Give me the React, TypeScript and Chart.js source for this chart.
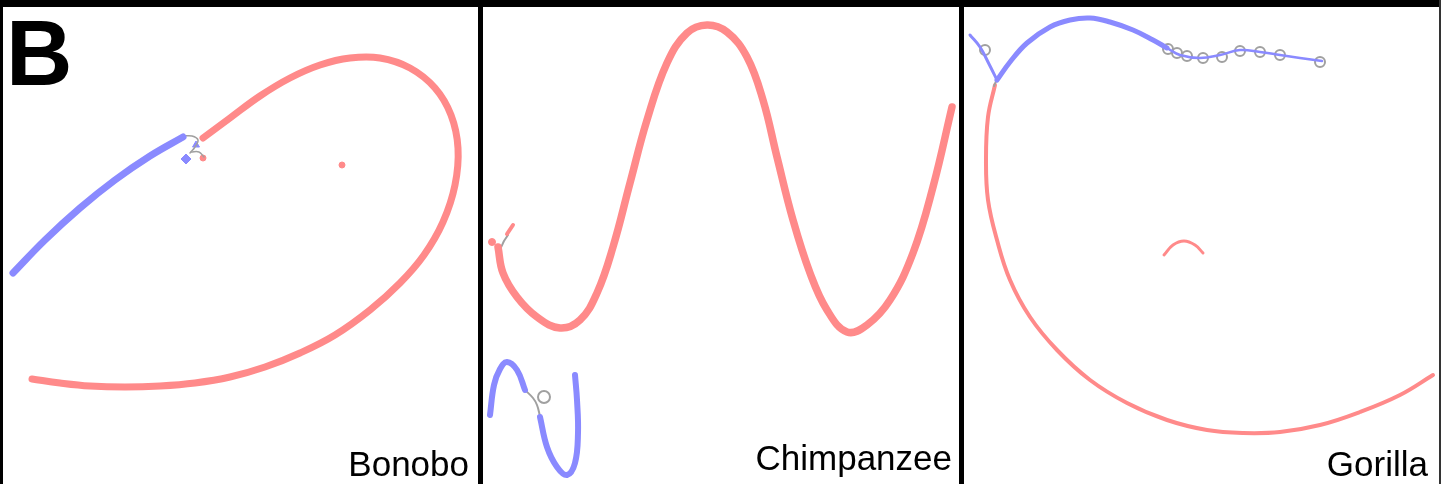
import React, { useEffect, useRef } from "react";
import { Chart, registerables } from "chart.js";

Chart.register(...registerables);

type P = [number, number];

// Figure-space coordinates (x: 0..1451, y: 0..484, y downward)
const panelLabels = ["Bonobo", "Chimpanzee", "Gorilla"];
const panelLetter = "B";

// ---- Bonobo ----
const bonoboBlue: P[] = [[13, 273], [45, 240], [80, 208], [115, 180], [150, 156], [183, 137]];
const bonoboRed: P[] = [
  [203, 138], [230, 118], [260, 96], [290, 78], [320, 65], [350, 58], [380, 58], [410, 68],
  [435, 88], [451, 115], [458, 148], [455, 185], [443, 222], [424, 255], [400, 283],
  [370, 310], [335, 335], [300, 353], [265, 367], [230, 377], [195, 383], [160, 386],
  [125, 387], [90, 386], [60, 383], [32, 379],
];
const bonoboGrayA: P[] = [[183, 136], [192, 136], [198, 140], [195, 147], [190, 153]];
const bonoboGrayB: P[] = [[191, 152], [199, 152], [204, 157]];
const bonoboBlueTri: P[] = [[196, 145]];
const bonoboBlueBlob: P[] = [[186, 159]];
const bonoboRedBits: P[] = [[203, 158], [342, 165]];

// ---- Chimpanzee ----
const chimpRed: P[] = [
  [498, 247], [503, 273], [517, 297], [537, 317], [560, 328], [580, 320], [597, 293],
  [613, 247], [630, 183], [647, 120], [667, 63], [687, 33], [707, 25], [727, 32],
  [747, 57], [763, 100], [777, 157], [793, 220], [810, 273], [827, 310], [847, 332],
  [867, 325], [890, 300], [913, 253], [933, 187], [952, 107],
];
const chimpRedStub: P[] = [[507, 234], [513, 225]];
const chimpRedDot: P[] = [[492, 242]];
const chimpGrayTop: P[] = [[497, 247], [500, 249], [504, 241], [508, 235]];
const chimpBlueA: P[] = [[490, 415], [494, 385], [500, 369], [507, 362], [517, 370], [525, 390]];
const chimpBlueB: P[] = [[540, 417], [547, 447], [557, 467], [567, 475], [575, 463], [578, 433], [577, 400], [575, 375]];
const chimpGrayLink: P[] = [[525, 390], [533, 398], [537, 405], [540, 416]];
const chimpRing: P[] = [[544, 397]];

// ---- Gorilla ----
const gorillaBlueStub: P[] = [[970, 35], [980, 47], [989, 64], [997, 80]];
const gorillaBlue: P[] = [[997, 80], [1010, 62], [1027, 43], [1050, 27], [1070, 20], [1090, 18], [1110, 22], [1133, 30], [1153, 40], [1167, 48]];
const gorillaBlueThin: P[] = [[1167, 48], [1180, 55], [1200, 58], [1220, 55], [1240, 50], [1260, 52], [1280, 55], [1300, 58], [1322, 61]];
const gorillaRings: P[] = [[985, 50], [1168, 49], [1177, 53], [1187, 56], [1203, 58], [1222, 57], [1240, 51], [1260, 52], [1280, 55], [1320, 62]];
const gorillaGrayLink: P[] = [[997, 79], [994, 86]];
const gorillaRed: P[] = [
  [995, 85], [988, 117], [986, 160], [988, 200], [997, 240], [1010, 280], [1030, 317],
  [1057, 350], [1090, 380], [1127, 403], [1167, 420], [1207, 430], [1243, 433],
  [1280, 432], [1320, 425], [1360, 412], [1400, 395], [1433, 375],
];
const gorillaArc: P[] = [[1164, 255], [1173, 245], [1184, 241], [1195, 245], [1203, 253]];

const RED = "rgb(255,138,138)";
const BLUE = "rgb(138,138,255)";
const GRAY = "rgb(160,160,160)";

const W = 1451;
const H = 484;

function pts(d: P[]) {
  return d.map(([x, y]) => ({ x, y }));
}
function line(d: P[], color: string, width: number, tension = 0.4) {
  return {
    data: pts(d),
    showLine: true,
    borderColor: color,
    backgroundColor: color,
    borderWidth: width,
    pointRadius: 0,
    tension,
    fill: false,
    borderCapStyle: "round",
    borderJoinStyle: "round",
  };
}
function dots(d: P[], color: string, r: number, style: string, filled: boolean, bw = 1) {
  return {
    data: pts(d),
    showLine: false,
    pointRadius: r,
    pointStyle: style,
    pointBackgroundColor: filled ? color : "rgba(0,0,0,0)",
    pointBorderColor: color,
    pointBorderWidth: bw,
  };
}

function Figure() {
  const ref = useRef<HTMLCanvasElement | null>(null);
  useEffect(() => {
    if (!ref.current) return;
    const chart = new Chart(ref.current, {
      type: "scatter",
      data: {
        datasets: [
          line(bonoboBlue, BLUE, 7),
          line(bonoboRed, RED, 7),
          line(bonoboGrayA, GRAY, 1.5),
          line(bonoboGrayB, GRAY, 1.5),
          dots(bonoboBlueTri, BLUE, 4, "triangle", true),
          dots(bonoboBlueBlob, BLUE, 5, "rectRot", true),
          dots(bonoboRedBits, RED, 3, "circle", true),
          line(chimpRed, RED, 7.5),
          line(chimpRedStub, RED, 4, 0),
          dots(chimpRedDot, RED, 3.5, "circle", true),
          line(chimpGrayTop, GRAY, 2, 0.2),
          line(chimpBlueA, BLUE, 6),
          line(chimpBlueB, BLUE, 6),
          line(chimpGrayLink, GRAY, 2),
          dots(chimpRing, GRAY, 6, "circle", false, 2),
          line(gorillaBlueStub, BLUE, 3),
          line(gorillaBlue, BLUE, 5),
          line(gorillaBlueThin, BLUE, 2.5),
          dots(gorillaRings, GRAY, 5, "circle", false, 2),
          line(gorillaGrayLink, GRAY, 2, 0),
          line(gorillaRed, RED, 4),
          line(gorillaArc, RED, 3),
        ] as any,
      },
      options: {
        animation: false,
        responsive: false,
        maintainAspectRatio: false,
        layout: { padding: 0, autoPadding: false },
        events: [],
        scales: {
          x: { type: "linear", min: 0, max: W, display: false },
          y: { type: "linear", min: 0, max: H, reverse: true, display: false },
        },
        plugins: { legend: { display: false }, tooltip: { enabled: false }, title: { display: false } },
      },
    });
    return () => chart.destroy();
  }, []);
  return <canvas ref={ref} width={W} height={H} style={{ position: "absolute", left: 0, top: 0, width: W, height: H }} />;
}

const labelRights = [469, 952, 1428];
const labelTops = [446, 440, 446];

export default function App() {
  useEffect(() => {
    document.body.style.margin = "0";
  }, []);
  const bar = (left: number, width: number, color = "#000") => (
    <div style={{ position: "absolute", left, top: 0, width, height: H, background: color }} />
  );
  return (
    <div style={{ position: "relative", width: W, height: H, background: "#fff", overflow: "hidden", fontFamily: "'Liberation Sans', Arial, sans-serif" }}>
      <Figure />
      <div style={{ position: "absolute", left: 0, top: 0, width: 1441, height: 7, background: "#000" }} />
      {bar(0, 3)}
      {bar(478, 5)}
      {bar(959, 5)}
      {bar(1439, 2, "#333")}
      <div style={{ position: "absolute", left: 6, top: 7, fontSize: 92, lineHeight: "92px", fontWeight: 700, color: "#000" }}>{panelLetter}</div>
      {panelLabels.map((t, i) => (
        <div key={t} style={{ position: "absolute", right: W - labelRights[i], top: labelTops[i], fontSize: 35, lineHeight: "35px", whiteSpace: "nowrap", color: "#000" }}>{t}</div>
      ))}
    </div>
  );
}
